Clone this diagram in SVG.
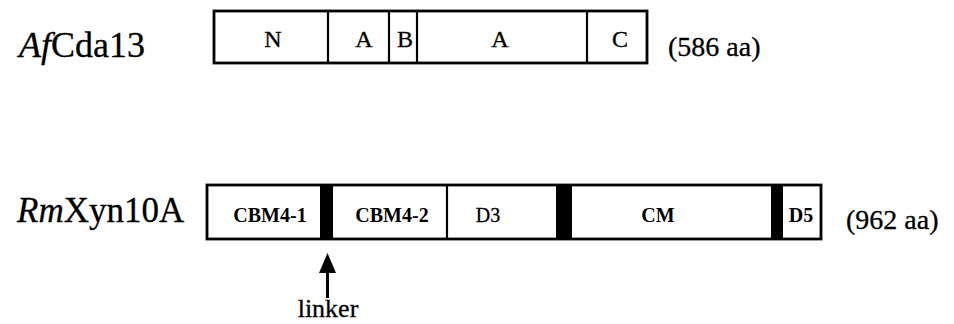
<svg xmlns="http://www.w3.org/2000/svg" width="954" height="324" viewBox="0 0 954 324">
<style>
text{font-family:"Liberation Serif","Times New Roman",serif;fill:#000;stroke:#000;stroke-width:0.3}
.box{fill:#fff;stroke:#000;stroke-width:2.8}
.div{stroke:#000;stroke-width:2.2}
.lbl{font-size:24px;text-anchor:middle}
.lbl2{font-size:20px;text-anchor:middle;font-weight:bold;stroke-width:0}
.lbl3{font-size:20px;text-anchor:middle}
.name{font-size:36px}
.len{font-size:28px}
.bar{fill:#000}
</style>
<rect width="954" height="324" fill="#fff" stroke="none"/>
<g id="AfCda13">
<text class="name" x="19" y="57"><tspan font-style="italic">Af</tspan>Cda13</text>
<rect class="box" x="214" y="11" width="433" height="52"/>
<line class="div" x1="328" y1="11" x2="328" y2="63"/>
<line class="div" x1="389" y1="11" x2="389" y2="63"/>
<line class="div" x1="417" y1="11" x2="417" y2="63"/>
<line class="div" x1="587" y1="11" x2="587" y2="63"/>
<text class="lbl" x="273" y="47">N</text>
<text class="lbl" x="364" y="47">A</text>
<text class="lbl" x="405" y="47">B</text>
<text class="lbl" x="500" y="47">A</text>
<text class="lbl" x="620" y="47">C</text>
<text class="len" x="668" y="56">(586 aa)</text>
</g>
<g id="RmXyn10A">
<text class="name" x="17" y="222" style="font-size:35px"><tspan font-style="italic">Rm</tspan>Xyn10A</text>
<rect class="box" x="207" y="185" width="614" height="54"/>
<rect class="bar" x="320" y="185" width="13" height="54"/>
<rect class="bar" x="556" y="185" width="16" height="54"/>
<rect class="bar" x="771" y="185" width="12" height="54"/>
<line class="div" x1="447" y1="185" x2="447" y2="239"/>
<text class="lbl2" x="270" y="222">CBM4-1</text>
<text class="lbl2" x="392" y="222">CBM4-2</text>
<text class="lbl3" x="488" y="222">D3</text>
<text class="lbl2" x="658" y="222">CM</text>
<text class="lbl2" x="801" y="222">D5</text>
<text class="len" x="846" y="229">(962 aa)</text>
</g>
<g id="connectors">
<line x1="327.5" y1="272" x2="327.5" y2="298" stroke="#000" stroke-width="3"/>
<polygon points="319,273 336,273 327.5,253" fill="#000"/>
</g>
<g id="linker-label">
<text x="328" y="317" font-size="26" text-anchor="middle">linker</text>
</g>
</svg>
